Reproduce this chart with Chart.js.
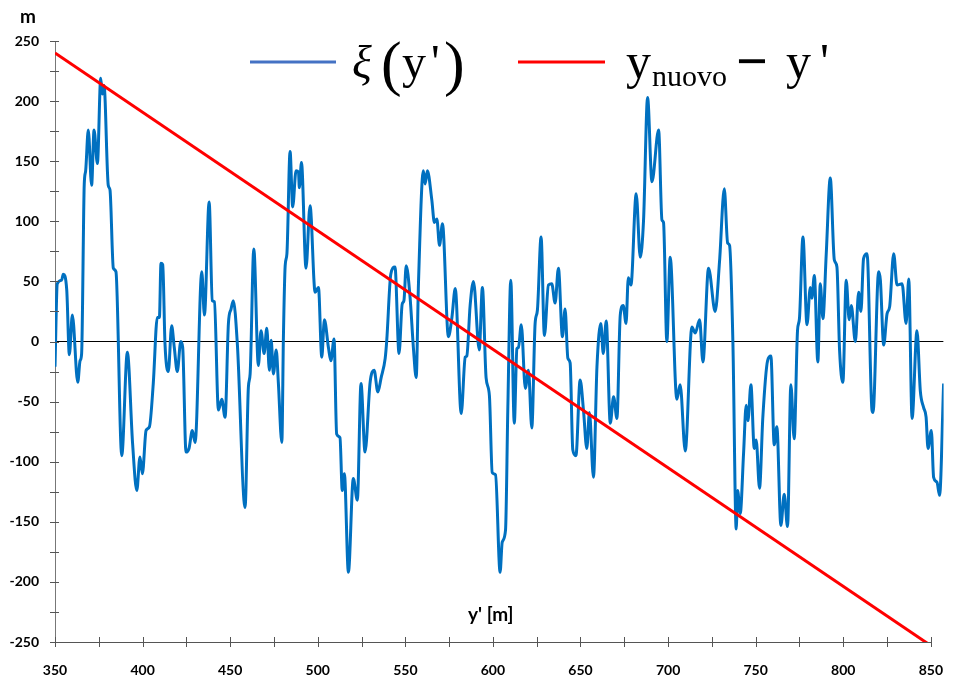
<!DOCTYPE html>
<html>
<head>
<meta charset="utf-8">
<script src="https://cdn.jsdelivr.net/npm/chart.js@4.4.1/dist/chart.umd.min.js"></script>
<style>
  html, body { margin: 0; padding: 0; background: #fff; overflow: hidden; }
  #wrap { width: 953px; height: 679px; overflow: hidden; }
</style>
</head>
<body>
<div id="wrap"><canvas id="grafico" width="963" height="679"></canvas></div>
<script>
// y' [m] e valori di xi(y')
const yPrimo = [
  350, 351.3, 353.8, 354.7, 356.7, 358.2, 359.9, 363, 364.3, 365.2, 366.7, 367.5, 369, 370.9, 372.3, 374.2,
  376.1, 377, 378, 380.4, 381.4, 383.3, 384.8, 388.1, 391.3, 394.3, 396.7, 398.5, 399.9, 402, 403.9, 406.1,
  408.4, 409.6, 410.5, 411.5, 412.8, 414.7, 416.6, 418.1, 419.8, 421.8, 422.9, 424.8, 426.5, 428.4, 430, 433.8,
  435.3, 438, 439.8, 441, 443.3, 445.2, 447.1, 449, 450.5, 451.8, 454.1, 458.5, 460.4, 461.4, 463.5, 466.1,
  467.6, 469.4, 470.9, 472.4, 473.4, 474.7, 476.3, 477.5, 479.5, 480.4, 481.4, 482.4, 484.2, 485.7, 487.6, 489,
  489.5, 490.7, 493.3, 495.6, 498.5, 500.4, 502.3, 503.8, 506.1, 507.5, 509.3, 510.8, 512.7, 514, 515.2, 517.5,
  520.3, 522.6, 524.7, 527, 529.9, 532.2, 534.3, 536.2, 538.5, 539.4, 541.7, 544.1, 546.4, 548.2, 549.2, 550.5,
  552.7, 554.6, 556.2, 557.5, 560.3, 561.3, 562.6, 565.1, 566.6, 568, 569.5, 571.2, 574.6, 576.6, 578.5, 581.9,
  584.2, 585.1, 587, 588.9, 592.2, 594, 596.1, 598, 599.6, 601.5, 604.1, 605.3, 607.2, 608.5, 610.2, 612.2,
  613.7, 614.6, 616.2, 618.5, 620.3, 622.2, 624.1, 625.4, 627.5, 629.4, 631.7, 633.6, 635.5, 637.4, 639.7, 641.2,
  642.8, 644.1, 645.6, 647.4, 649.8, 651.7, 653.6, 655.1, 657.4, 659.4, 661.6, 663, 664.7, 667, 668.9, 670.8,
  672.7, 674.4, 676, 677.3, 678.8, 681.8, 684.1, 686, 688.3, 690.8, 694.6, 696.5, 697.4, 699.3, 701.2, 705,
  706.9, 709.8, 713.6, 715.5, 718, 719.9, 723.1, 726.9, 729.4, 732.1, 734, 735.1, 737, 738.9, 739.7, 741.2,
  743.1, 744.6, 745.6, 747.3, 749.2, 750.3, 752.2, 754.1, 756.8, 758.7, 760.6, 762.1, 764.4, 766.3, 768.2, 770.1,
  772, 773.9, 775, 777, 779.3, 781.2, 782.1, 783.5, 785.5, 786.9, 788.4, 790.3, 792.6, 794.9, 796.4, 797.9,
  799.8, 801.7, 803.4, 804.6, 806.9, 808.8, 810.1, 811.6, 813.6, 816.4, 817, 820.2, 821.2, 823.1, 825, 826.5,
  828.8, 830.7, 833.6, 835.9, 837.4, 839.3, 842.1, 844, 845.9, 847.3, 848.4, 850.3, 851.6, 853.5, 855, 857.3
];
const xi = [
  -21, 48, 51, 56, 43, -11, 22, -34, -16, -10, 131, 142, 176, 130, 176, 148,
  219, 206, 213, 130, 126, 61, 58, -95, -9, -85, -124, -96, -110, -74, -71, -35,
  20, 20, 65, 64, -2, -25, 13, -5, -25, 0, -5, -92, -89, -74, -84, 58,
  22, 116, 34, 33, -57, -48, -63, 15, 27, 34, -2, -138, -38, -27, 77, -20,
  9, -10, 11, -24, 1, -27, -7, -34, -84, 4, 63, 73, 158, 112, 142, 141,
  128, 149, 61, 113, 41, 45, -13, 18, -5, -16, 2, -77, -80, -124, -110, -192,
  -114, -132, -35, -92, -34, -24, -42, -30, -14, 1, 56, 62, -10, 31, 34, 63,
  37, -5, -30, 48, 142, 131, 142, 118, 99, 102, 80, 98, 4, 20, 44, -60,
  -13, -12, 30, 50, -7, 45, -30, -45, -109, -111, -192, -167, -157, -57, 51, -68,
  -6, -5, 14, -39, -24, -72, 15, 26, 87, 5, 47, 48, 32, 61, 4, 27,
  -14, -18, -90, -95, -32, -57, -89, -59, -113, -21, 15, -10, 17, -68, -46, -64,
  22, 30, 15, 53, 47, 123, 70, 101, 203, 133, 176, 101, 99, 0, 70, -48,
  -36, -91, 12, 7, 18, -17, 61, 25, 67, 127, 82, 80, 0, -156, -124, -143,
  -93, -53, -66, -36, -89, -82, -122, -63, -16, -12, -86, -71, -153, -127, -154, -36,
  -81, 9, 19, 87, 14, 45, 36, 55, -17, 48, 19, 73, 136, 68, 62, -7,
  -34, 51, 18, 30, 0, 41, 25, 69, 73, -57, -59, 58, 51, -3, 23, 29,
  73, 47, 48, 15, 52, -64, 9, -41, -55, -63, -89, -74, -113, -117, -128, -35
];
// retta y_nuovo - y'
const rettaX = [350, 850];
const rettaY = [240, -253];
// linea dello zero
const zeroX = [350, 857.3];
const zeroY = [0, 0];

const tickY = [-250, 250, 25];
const tickX = [350, 850, 25];
const fineDati = 857.3;

const punti = (xs, ys) => xs.map((v, i) => ({ x: v, y: ys[i] }));
const etichetta = v => (v % 50 === 0 ? String(v) : '');

const decorazioni = {
  id: 'decorazioni',
  afterDraw(chart) {
    const { ctx, chartArea, scales: { x, y } } = chart;
    ctx.save();
    ctx.strokeStyle = '#555';
    ctx.lineWidth = 1;
    // asse x fino a 850
    const xFine = Math.round(x.getPixelForValue(tickX[1])) + 0.5;
    const yBase = Math.round(chartArea.bottom) + 0.5;
    ctx.beginPath();
    ctx.moveTo(chartArea.left, yBase);
    ctx.lineTo(xFine, yBase);
    ctx.stroke();
    y.ticks.forEach(t => {
      const py = Math.round(y.getPixelForValue(t.value)) + 0.5;
      ctx.beginPath();
      ctx.moveTo(chartArea.left - 5, py);
      ctx.lineTo(chartArea.left + 4, py);
      ctx.stroke();
    });
    x.ticks.forEach(t => {
      const px = Math.round(x.getPixelForValue(t.value)) + 0.5;
      ctx.beginPath();
      ctx.moveTo(px, chartArea.bottom - 5);
      ctx.lineTo(px, chartArea.bottom + 5);
      ctx.stroke();
    });

    ctx.fillStyle = '#000';
    ctx.textBaseline = 'alphabetic';
    ctx.textAlign = 'left';
    ctx.font = 'bold 19px Lato';
    ctx.fillText('m', 20, 23);
    ctx.fillText("y' [m]", 468, 621);

    // legenda
    ctx.lineWidth = 3;
    ctx.strokeStyle = '#4472C4';
    ctx.beginPath(); ctx.moveTo(250, 62); ctx.lineTo(336, 62); ctx.stroke();
    ctx.strokeStyle = '#FF0000';
    ctx.beginPath(); ctx.moveTo(518, 62); ctx.lineTo(605, 62); ctx.stroke();

    ctx.font = 'italic 46px "Liberation Serif"';
    ctx.fillText('ξ', 352, 78);
    ctx.font = '62px "Liberation Serif"';
    ctx.fillText('(', 381, 84);
    ctx.fillText(')', 444, 84);
    ctx.font = '48px "Liberation Serif"';
    ctx.fillText('y', 402, 78);
    ctx.fillText("'", 431, 78);

    ctx.font = '50px "Liberation Serif"';
    ctx.fillText('y', 626, 78);
    ctx.font = '30px "Liberation Serif"';
    ctx.fillText('nuovo', 652, 86);
    ctx.font = 'bold 56px "Liberation Serif"';
    ctx.fillText('−', 736, 80);
    ctx.font = '50px "Liberation Serif"';
    ctx.fillText('y', 786, 78);
    ctx.fillText("'", 820, 78);
    ctx.restore();
  }
};

new Chart(document.getElementById('grafico'), {
  type: 'line',
  data: {
    datasets: [
      {
        label: "y_nuovo - y'",
        data: punti(rettaX, rettaY),
        borderColor: '#FF0000',
        borderWidth: 3,
        pointRadius: 0
      },
      {
        label: "xi(y')",
        data: punti(yPrimo, xi),
        borderColor: '#0070C0',
        borderWidth: 3,
        pointRadius: 0,
        cubicInterpolationMode: 'monotone'
      },
      {
        label: 'zero',
        data: punti(zeroX, zeroY),
        borderColor: '#000',
        borderWidth: 1,
        pointRadius: 0
      }
    ]
  },
  options: {
    responsive: false,
    animation: false,
    layout: { autoPadding: false, padding: { top: 41, right: 0, bottom: 0, left: 0 } },
    plugins: { legend: { display: false }, tooltip: { enabled: false } },
    scales: {
      x: {
        type: 'linear',
        min: tickX[0], max: fineDati,
        grid: { display: false, drawTicks: false },
        border: { display: false },
        ticks: {
          autoSkip: false, maxRotation: 0, padding: 20,
          color: '#000', font: { family: 'Lato', weight: 'bold', size: 14 },
          callback: etichetta
        },
        afterBuildTicks: s => {
          const t = [];
          for (let v = tickX[0]; v <= tickX[1]; v += tickX[2]) t.push({ value: v });
          s.ticks = t;
        },
        afterFit: s => { s.height = 37; }
      },
      y: {
        min: tickY[0], max: tickY[1],
        grid: { display: false, drawTicks: false },
        border: { display: true, color: '#777', width: 1 },
        ticks: {
          stepSize: tickY[2], autoSkip: false, padding: 16,
          color: '#000', font: { family: 'Lato', weight: 'bold', size: 14 },
          callback: etichetta
        },
        afterFit: s => { s.width = 55; }
      }
    }
  },
  plugins: [decorazioni]
});
</script>
</body>
</html>
